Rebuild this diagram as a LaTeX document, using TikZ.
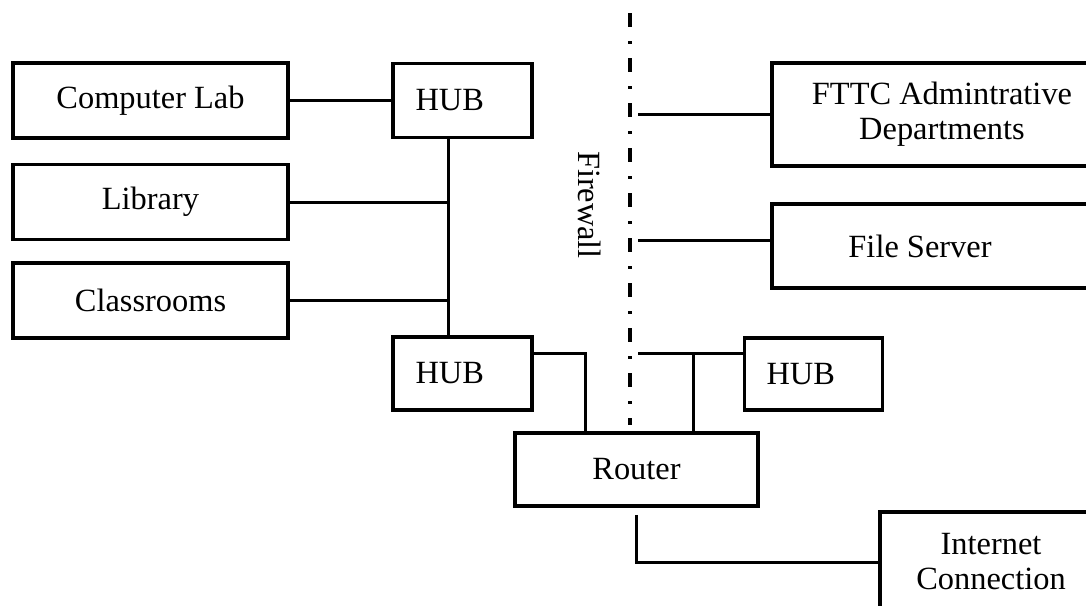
\documentclass[tikz,border=0pt]{standalone}
\usepackage{fontspec}
\setmainfont{Liberation Serif}
\begin{document}
\begin{tikzpicture}[x=0.5pt,y=-0.5pt,
    box/.style={rectangle,draw,line width=1.8pt,inner sep=0pt,align=center,font=\fontsize{16.2}{17.5}\selectfont},
    room/.style={box,minimum width=137.5pt,minimum height=37.5pt},
    hub/.style={box,minimum width=69.5pt,minimum height=37pt,text width=47pt,align=left,inner xsep=11pt},
    wire/.style={line width=1.5pt},
    firewall/.style={line width=1.6pt,dash pattern=on 7pt off 7pt on 1.5pt off 7pt}]
    \clip (0,0) rectangle (1086,605);
    % left side
    \node[room] at (150.5,100.5) (complab) {Computer Lab};
    \node[room] at (150.5,202) (library) {Library};
    \node[room] at (150.5,300.5) (classrooms) {Classrooms};
    \node[hub] at (462.5,100.5) (hubA) {HUB};
    \node[hub,minimum height=36.5pt] at (462.5,373.5) (hubB) {HUB};
    \node[hub,minimum width=68.5pt,minimum height=36pt] at (813.5,374) (hubC) {HUB};
    \node[box,minimum width=121.5pt,minimum height=36.5pt] at (636.5,469.5) (router) {Router};
    % right side
    \node[box,minimum width=170pt,minimum height=51.5pt] at (942,114.5) (fttc) {FTTC Admintrative\\Departments};
    \node[box,minimum width=170pt,minimum height=42pt] at (942,246) (server) {File Server\hspace*{22pt}};
    \node[box,minimum width=111pt,minimum height=50pt] at (991,562) (internet) {Internet\\Connection};
    % firewall
    \coordinate (fwtop) at (630,13);
    \coordinate (fwbot) at (630,425);
    \draw[firewall] (fwtop) -- (fwbot);
    \node[rotate=-90,font=\fontsize{16.2}{17.5}\selectfont] at (590,205) (fwlabel) {Firewall};
    % wiring
    \coordinate (bus) at ([xshift=-7pt]hubA.south);
    \coordinate (tapB) at (585,353);
    \coordinate (tapC) at (693,353);
    \coordinate (fwR) at (638,0);
    \draw[wire] (complab) -- (hubA);
    \draw[wire] (bus) -- (bus |- hubB.north);
    \draw[wire] (library) -- (library -| bus);
    \draw[wire] (classrooms) -- (classrooms -| bus);
    \draw[wire] (tapB -| hubB.east) -| (tapB |- router.north);
    \draw[wire] (fwR |- tapC) -- (tapC -| hubC.west);
    \draw[wire] (tapC) -- (tapC |- router.north);
    \draw[wire] (fwR |- fttc.west) -- (fttc.west);
    \draw[wire] (fwR |- server.west) ++(0,-6) -- ([yshift=3pt]server.west);
    \draw[wire] ([yshift=-3.5pt]router.south) |- (internet.west);
\end{tikzpicture}
\end{document}
